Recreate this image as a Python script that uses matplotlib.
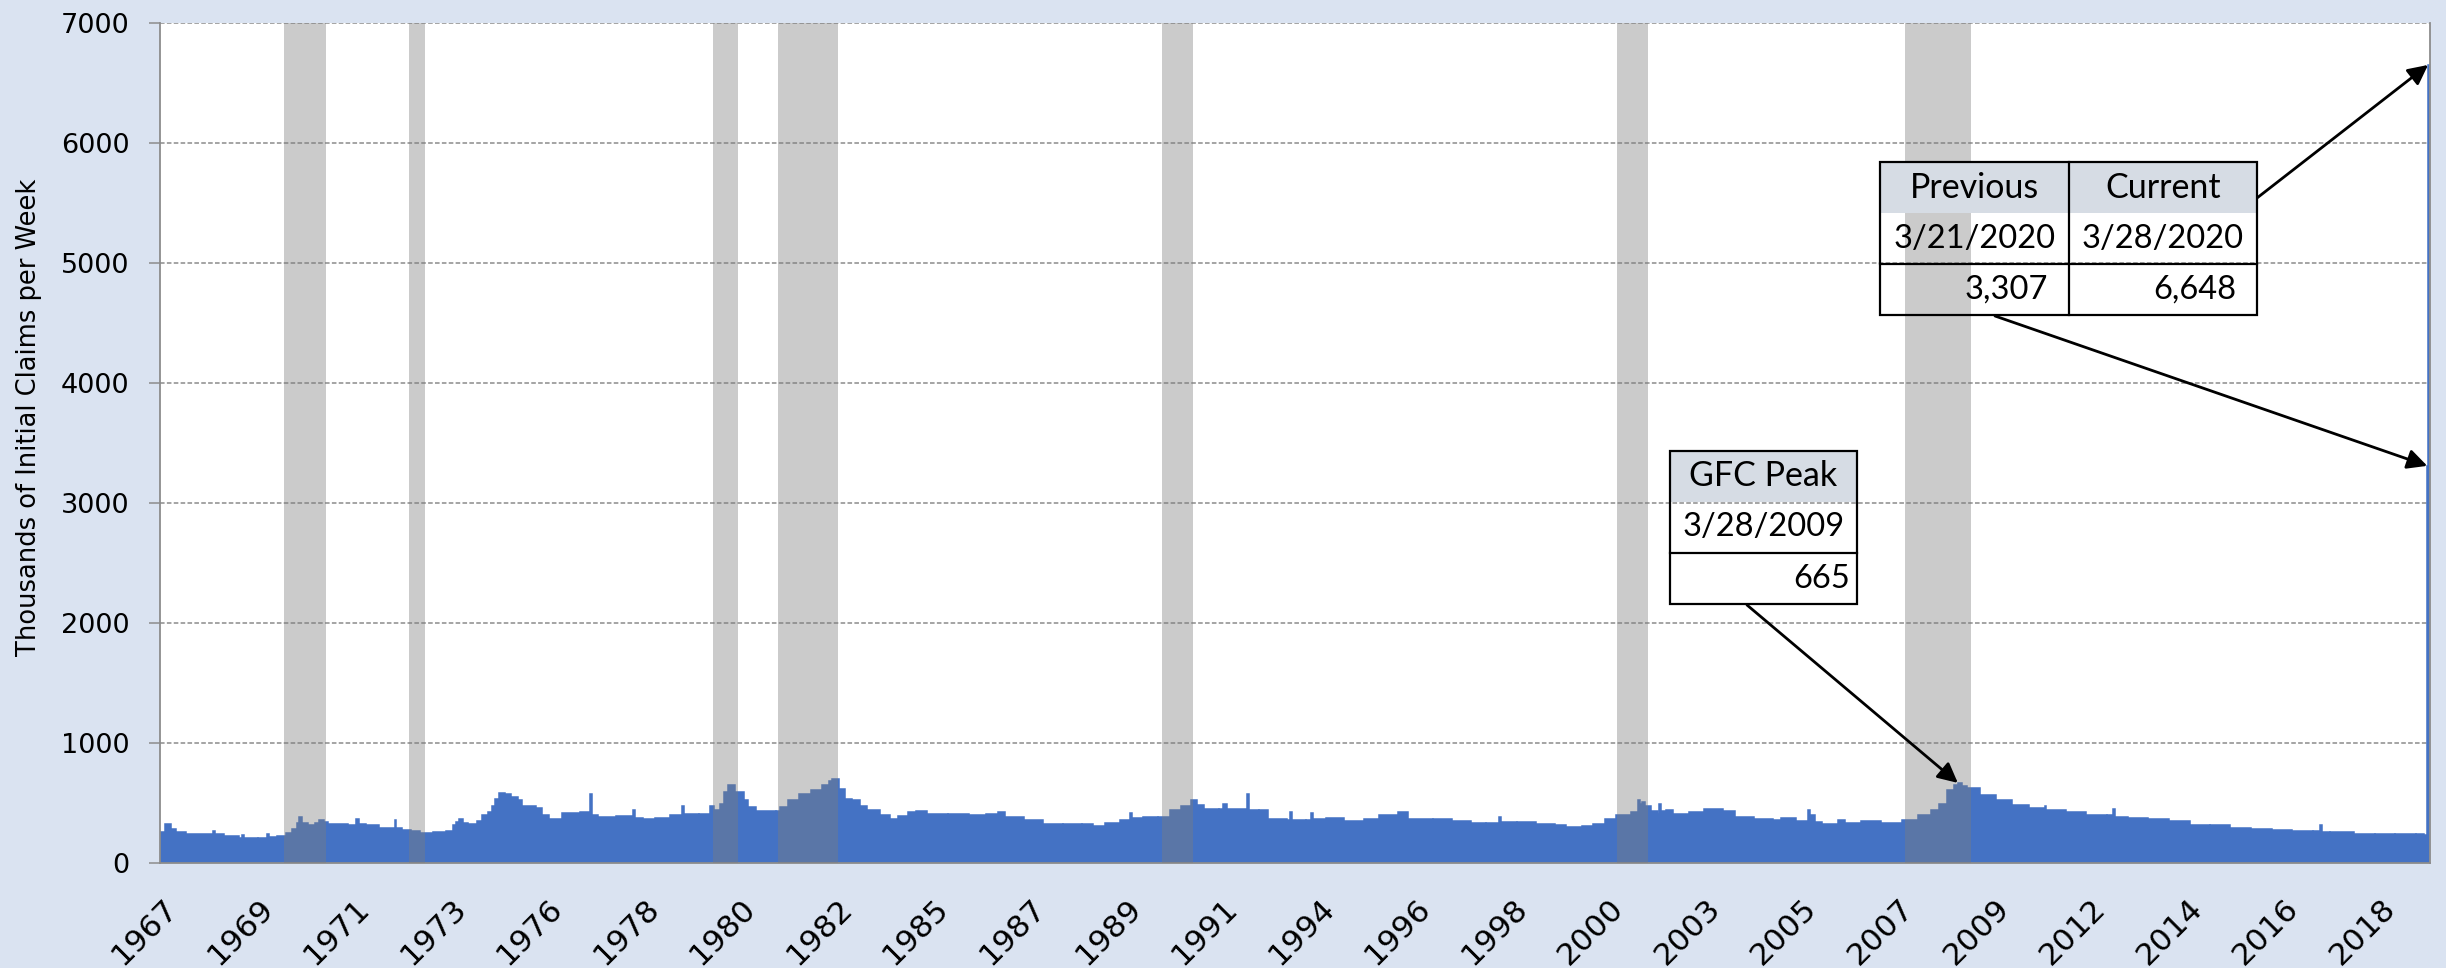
"""Initial jobless claims 1967-2020 with recession shading and callout tables."""
import numpy as np
import matplotlib
matplotlib.use("Agg")
import matplotlib.pyplot as plt
from matplotlib.patches import Rectangle
from matplotlib.lines import Line2D

W, H = 2446, 968

obs_date = [1967.00, 1967.12, 1967.25, 1967.38, 1967.60, 1968.25, 1968.30, 1968.50, 1968.85, 1968.92,
            1968.96, 1969.30, 1969.52, 1969.56, 1969.74, 1969.95, 1970.10, 1970.22, 1970.27, 1970.33,
            1970.47, 1970.65, 1970.74, 1970.85, 1970.94, 1971.41, 1971.60, 1971.66, 1971.83, 1972.15,
            1972.51, 1972.55, 1972.67, 1972.90, 1973.10, 1973.40, 1973.71, 1973.87, 1973.95, 1974.03,
            1974.12, 1974.24, 1974.45, 1974.55, 1974.70, 1974.80, 1974.87, 1974.95, 1975.10, 1975.23,
            1975.40, 1975.50, 1975.82, 1975.96, 1976.12, 1976.44, 1976.85, 1977.10, 1977.14, 1977.27,
            1977.70, 1978.10, 1978.14, 1978.33, 1978.63, 1978.96, 1979.25, 1979.29, 1979.66, 1979.92,
            1980.00, 1980.15, 1980.25, 1980.34, 1980.50, 1980.70, 1980.80, 1981.00, 1981.45, 1981.55,
            1981.73, 1982.00, 1982.27, 1982.53, 1982.70, 1982.78, 1982.94, 1983.07, 1983.25, 1983.43,
            1983.60, 1983.89, 1984.14, 1984.33, 1984.55, 1984.75, 1985.00, 1985.50, 1986.00, 1986.40,
            1986.66, 1986.84, 1987.28, 1987.73, 1988.19, 1988.64, 1988.90, 1989.18, 1989.54, 1989.78,
            1989.82, 1990.08, 1990.43, 1990.70, 1990.97, 1991.20, 1991.33, 1991.50, 1991.86, 1991.96,
            1992.05, 1992.52, 1992.56, 1992.80, 1993.00, 1993.45, 1993.53, 1993.57, 1993.90, 1994.02,
            1994.06, 1994.36, 1994.80, 1995.25, 1995.61, 1996.06, 1996.30, 1996.87, 1997.32, 1997.77,
            1998.12, 1998.42, 1998.47, 1998.85, 1999.30, 1999.74, 2000.00, 2000.37, 2000.63, 2000.91,
            2001.17, 2001.54, 2001.69, 2001.73, 2001.78, 2001.86, 2001.99, 2002.17, 2002.19, 2002.23,
            2002.35, 2002.52, 2002.88, 2003.24, 2003.69, 2003.96, 2004.41, 2004.85, 2005.04, 2005.40,
            2005.68, 2005.72, 2005.85, 2006.02, 2006.38, 2006.56, 2006.92, 2007.39, 2007.88, 2008.27,
            2008.56, 2008.75, 2008.94, 2009.10, 2009.20, 2009.30, 2009.42, 2009.71, 2010.10, 2010.48,
            2010.87, 2011.24, 2011.28, 2011.75, 2012.22, 2012.71, 2012.85, 2012.89, 2013.19, 2013.67,
            2014.16, 2014.64, 2015.12, 2015.60, 2016.09, 2016.58, 2017.05, 2017.54, 2017.71, 2017.75,
            2017.93, 2018.50, 2019.00, 2019.46, 2019.96, 2020.15, 2020.219, 2020.238]
claims = [256, 320, 280, 256, 236, 264, 236, 220, 208, 228,
          210, 208, 236, 215, 220, 247, 283, 330, 381, 330,
          311, 330, 353, 340, 320, 311, 361, 320, 311, 292,
          358, 290, 275, 265, 247, 256, 264, 311, 340, 367,
          330, 325, 350, 395, 422, 470, 534, 581, 570, 548,
          525, 470, 459, 395, 367, 414, 422, 575, 400, 381,
          386, 442, 370, 367, 375, 395, 470, 409, 409, 470,
          436, 486, 590, 645, 590, 520, 464, 430, 430, 464,
          520, 575, 603, 645, 680, 695, 617, 534, 520, 470,
          442, 395, 367, 386, 420, 430, 405, 405, 400, 403,
          422, 385, 358, 325, 325, 320, 303, 331, 353, 414,
          370, 380, 380, 436, 470, 520, 478, 445, 445, 486,
          450, 570, 440, 436, 367, 358, 422, 360, 353, 414,
          365, 375, 347, 367, 395, 422, 367, 361, 347, 334,
          334, 380, 340, 339, 320, 311, 297, 303, 320, 367,
          400, 422, 525, 492, 506, 470, 431, 409, 486, 430,
          442, 403, 422, 450, 428, 380, 367, 353, 375, 347,
          436, 400, 339, 325, 353, 331, 347, 331, 353, 395,
          436, 492, 609, 650, 665, 640, 625, 561, 520, 478,
          456, 470, 440, 422, 395, 395, 450, 380, 375, 361,
          347, 311, 311, 289, 284, 270, 264, 261, 311, 258,
          256, 236, 242, 236, 242, 228, 3307, 6648]

recession_start = [1969.91, 1972.84, 1979.99, 1981.50, 1990.51, 2001.19, 2007.95]
recession_end = [1970.89, 1973.21, 1980.57, 1982.91, 1991.24, 2001.92, 2009.50]

tick_labels = ["1967", "1969", "1971", "1973", "1976", "1978", "1980", "1982", "1985", "1987",
               "1989", "1991", "1994", "1996", "1998", "2000", "2003", "2005", "2007", "2009",
               "2012", "2014", "2016", "2018"]
y_ticks = [0, 1000, 2000, 3000, 4000, 5000, 6000, 7000]

gfc_header, gfc_day = "GFC Peak", "3/28/2009"
gfc_idx = obs_date.index(2009.20)
now_header = ["Previous", "Current"]
now_days = ["3/21/2020", "3/28/2020"]

BLUE = "#4472C4"
BG = "#DAE3F1"
HEAD = "#D6DCE4"
GRID = "#8C8C8C"
TABLE_FONT = "Lato"


def fig_xy(x, y):
    # figure pixel (from top-left) -> figure fraction
    return x / W, 1 - y / H


def draw_table(fig, left, top, col_w, row_h, header, days, values, pad):
    ncol = len(header)
    width = col_w * ncol
    x0, y0 = fig_xy(left, top + row_h)
    fig.patches.append(Rectangle((x0, y0), width / W, row_h / H, transform=fig.transFigure,
                                 facecolor=HEAD, edgecolor="none", zorder=5))
    x0, y0 = fig_xy(left, top + 3 * row_h)
    fig.patches.append(Rectangle((x0, y0), width / W, 3 * row_h / H, transform=fig.transFigure,
                                 facecolor="none", edgecolor="black", lw=1.6, zorder=6))
    xa, ya = fig_xy(left, top + 2 * row_h)
    xb, _ = fig_xy(left + width, top)
    fig.lines.append(Line2D([xa, xb], [ya, ya], transform=fig.transFigure, color="black", lw=1.6, zorder=6))
    for c in range(1, ncol):
        xc, yt = fig_xy(left + c * col_w, top)
        _, yb = fig_xy(0, top + 3 * row_h)
        fig.lines.append(Line2D([xc, xc], [yt, yb], transform=fig.transFigure, color="black", lw=1.6, zorder=6))
    for c in range(ncol):
        cx = left + (c + 0.5) * col_w
        rx = left + (c + 1) * col_w - pad
        kw = dict(family=TABLE_FONT, va="center", zorder=7)
        fig.text(*fig_xy(cx, top + 0.5 * row_h), header[c], ha="center", fontsize=24.5, **kw)
        fig.text(*fig_xy(cx, top + 1.5 * row_h), days[c], ha="center", fontsize=23.5, **kw)
        fig.text(*fig_xy(rx, top + 2.5 * row_h), f"{values[c]:,}", ha="right", fontsize=23.5, **kw)


fig = plt.figure(figsize=(W / 100, H / 100), dpi=100, facecolor=BG)
ax = fig.add_axes([160 / W, 1 - 862.7 / H, 2270 / W, 840 / H])
ax.set_facecolor("white")

widths = np.diff(obs_date + [obs_date[-1] + 0.019])
ax.bar(obs_date, claims, width=widths, align="edge", color=BLUE, edgecolor=BLUE, linewidth=1.1, zorder=2)
for a, b in zip(recession_start, recession_end):
    ax.axvspan(a, b, color="#7D7D7D", alpha=0.4, lw=0, zorder=3)

ax.set_xlim(1967.0, obs_date[-1] + 0.045)
ax.set_ylim(0, 7000)
ax.set_yticks(y_ticks)
ax.yaxis.grid(True, color=GRID, lw=1.1, linestyle=(0, (3, 1.5)), zorder=1)
ax.set_axisbelow(True)

# category-style labels: one every ~118 weeks, as in the source chart
tick_pos = 1967.05 + 2.264 * np.arange(len(tick_labels))
ax.set_xticks(tick_pos)
ax.set_xticklabels(tick_labels, rotation=45, ha="right", rotation_mode="anchor")
ax.tick_params(axis="x", length=0, pad=22, labelsize=22.5)
ax.tick_params(axis="y", length=8, width=1.1, color=GRID, pad=14, labelsize=19.5)

for side in ["left", "bottom", "right"]:
    ax.spines[side].set_color(GRID)
    ax.spines[side].set_linewidth(1.3)
ax.spines["top"].set_visible(False)

ax.set_ylabel("Thousands of Initial Claims per Week", fontsize=18.5)
ax.yaxis.set_label_coords(-0.052, 0.53)

# callout arrows (start points at the table edges, in figure pixels)
arrow = dict(arrowstyle="-|>", mutation_scale=30, lw=2.0, color="black", shrinkA=0, shrinkB=0)
ax.annotate("", xy=(obs_date[gfc_idx], claims[gfc_idx]), xytext=fig_xy(1747, 605),
            textcoords="figure fraction", arrowprops=arrow, zorder=8)
ax.annotate("", xy=(obs_date[-2], claims[-2]), xytext=fig_xy(1995, 316),
            textcoords="figure fraction", arrowprops=arrow, zorder=8)
ax.annotate("", xy=(obs_date[-1], claims[-1]), xytext=fig_xy(2257, 198),
            textcoords="figure fraction", arrowprops=arrow, zorder=8)

draw_table(fig, 1670, 451, 187, 51, [gfc_header], [gfc_day], [claims[gfc_idx]], pad=7)
draw_table(fig, 1880, 162, 188.5, 51, now_header, now_days, claims[-2:], pad=21)

fig.savefig("out.png", dpi=100, facecolor=BG)
